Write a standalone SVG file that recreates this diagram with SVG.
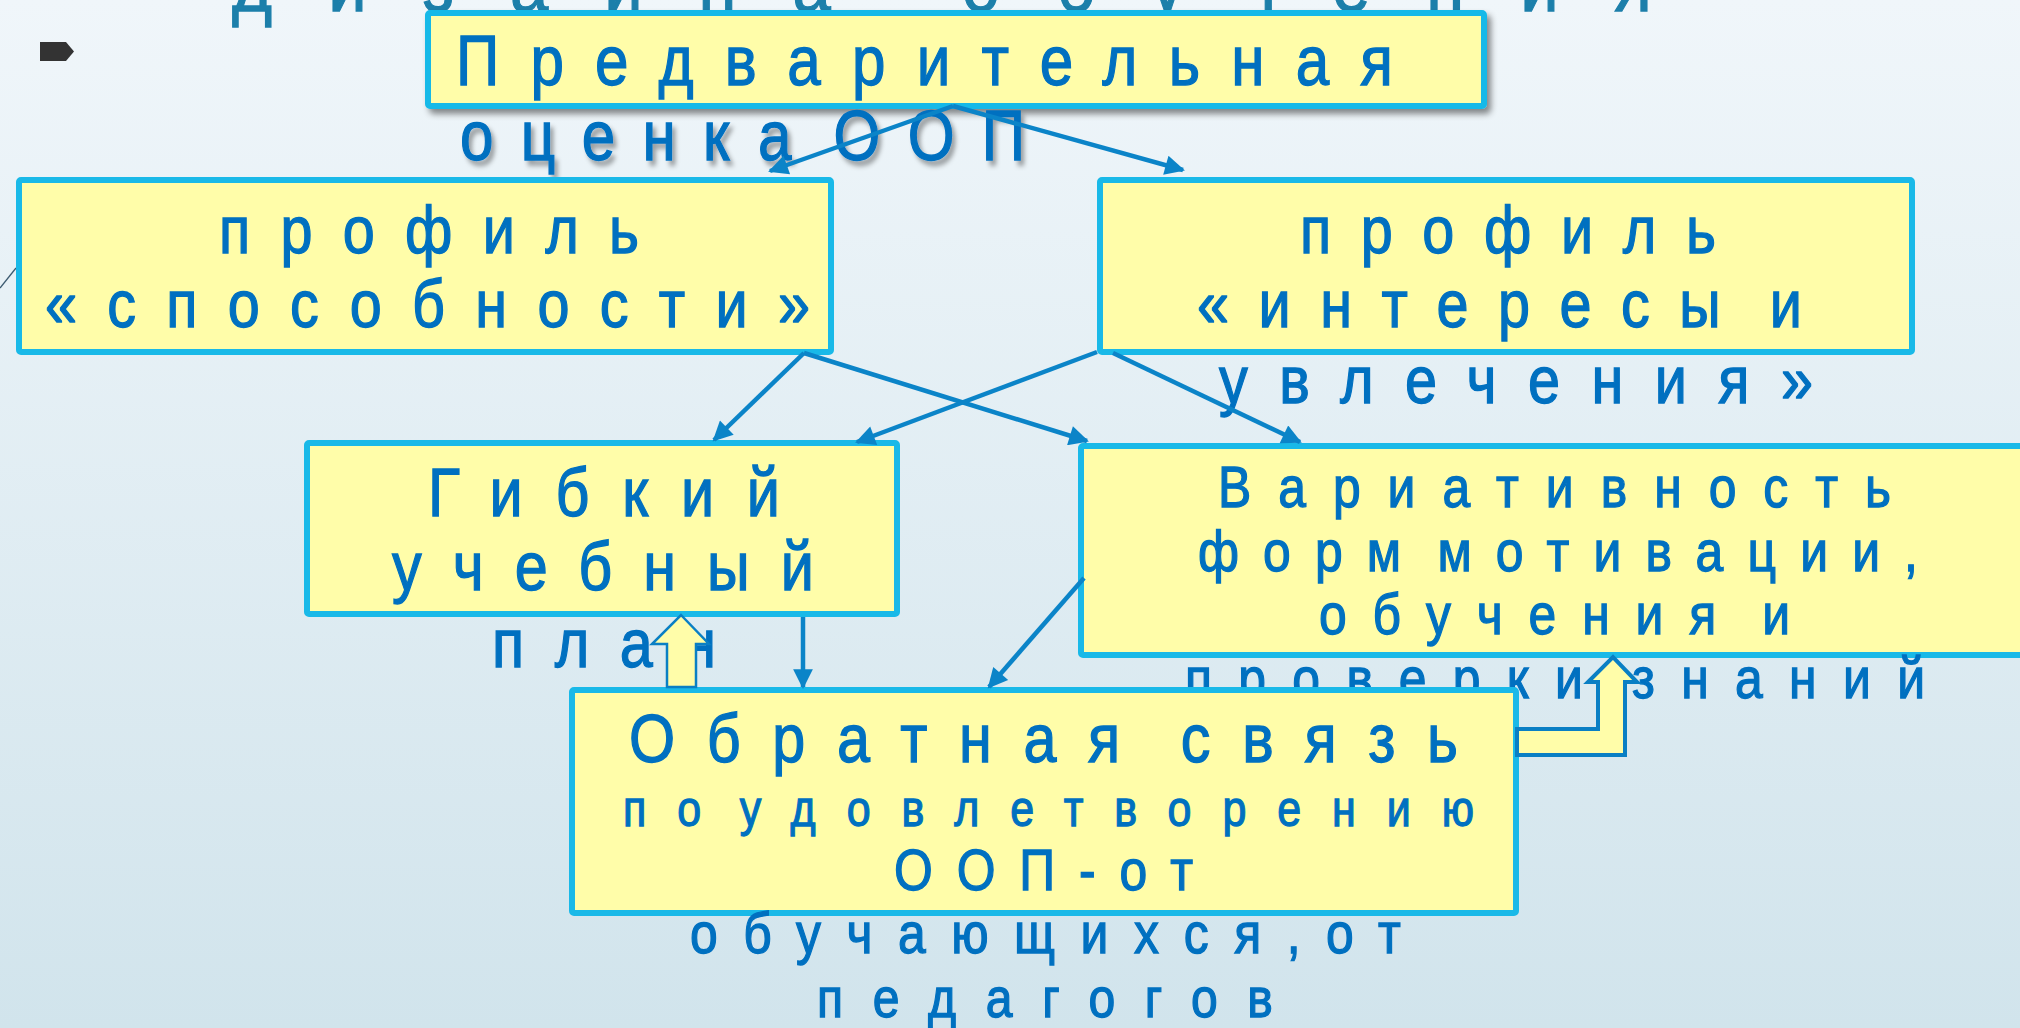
<svg xmlns="http://www.w3.org/2000/svg" width="2020" height="1028" viewBox="0 0 2020 1028">
  <defs>
    <linearGradient id="bg" x1="0" y1="0" x2="0" y2="1">
      <stop offset="0" stop-color="#f0f6fa"/>
      <stop offset="1" stop-color="#d1e4ec"/>
    </linearGradient>
    <filter id="shadow" x="-5%" y="-10%" width="115%" height="130%">
      <feDropShadow dx="4" dy="5" stdDeviation="3" flood-color="#000" flood-opacity="0.45"/>
    </filter>
    <filter id="tshadow" x="-5%" y="-20%" width="115%" height="150%">
      <feDropShadow dx="4" dy="5" stdDeviation="2.5" flood-color="#000" flood-opacity="0.35"/>
    </filter>
    <marker id="ah" viewBox="0 0 10 10" refX="9" refY="5" markerWidth="5" markerHeight="4.4" markerUnits="strokeWidth" orient="auto">
      <path d="M0,0 L10,5 L0,10 z" fill="#0b84c8"/>
    </marker>
    <style>
      .box { fill: #fffda9; stroke: #19b9e8; stroke-width: 6; }
      .t { font-family: "Liberation Sans", Arial, sans-serif; fill: #0070c0; stroke: #0070c0; stroke-width: 1.3; }
      .bgt { font-family: "Liberation Sans", Arial, sans-serif; fill: #1c7faa; stroke: #1c7faa; stroke-width: 1.3; }
      .conn { stroke: #0b84c8; stroke-width: 4.5; fill: none; marker-end: url(#ah); }
      .block { fill: #fffda9; stroke: #0a7fc4; stroke-linejoin: miter; }
    </style>
  </defs>

  <rect x="0" y="0" width="2020" height="1028" fill="url(#bg)"/>

  <!-- background slide title fragment -->
  <text class="bgt" transform="scale(0.86 1)" x="269.8" y="11" font-size="80" textLength="1651" lengthAdjust="spacing">дизайна обучения</text>

  <!-- bullet and decoration -->
  <path d="M40,42 H66 L74,51.5 L66,61 H40 Z" fill="#333"/>
  <line x1="0" y1="288" x2="16" y2="268" stroke="#3c5a70" stroke-width="1.3"/>

  <g id="node-top">
    <rect class="box" x="428" y="13" width="1056" height="93" rx="2" filter="url(#shadow)"/>
    <text class="t" transform="scale(0.86 1)" x="530.2" y="85" font-size="70" textLength="1089.5" lengthAdjust="spacing">Предварительная</text>
    <text class="t" transform="scale(0.86 1)" x="534.9" y="160" font-size="70" textLength="657" lengthAdjust="spacing" word-spacing="-34" filter="url(#tshadow)">оценка ООП</text>
  </g>

  <g id="node-abilities">
    <rect class="box" x="19" y="180" width="812" height="172" rx="2"/>
    <text class="t" transform="scale(0.86 1)" x="254.7" y="253" font-size="67" textLength="488.4" lengthAdjust="spacing">профиль</text>
    <text class="t" transform="scale(0.86 1)" x="52.3" y="327" font-size="67" textLength="889.5" lengthAdjust="spacing">«способности»</text>
  </g>

  <g id="node-interests">
    <rect class="box" x="1100" y="180" width="812" height="172" rx="2"/>
    <text class="t" transform="scale(0.86 1)" x="1511.6" y="253" font-size="67" textLength="483.7" lengthAdjust="spacing">профиль</text>
    <text class="t" transform="scale(0.86 1)" x="1391.9" y="327" font-size="67" textLength="703.5" lengthAdjust="spacing" word-spacing="-30">«интересы и</text>
    <text class="t" transform="scale(0.86 1)" x="1417.4" y="403" font-size="67" textLength="690.7" lengthAdjust="spacing">увлечения»</text>
  </g>

  <g id="node-plan">
    <rect class="box" x="307" y="443" width="590" height="171" rx="2"/>
    <text class="t" transform="scale(0.86 1)" x="497.7" y="516" font-size="69" textLength="409.3" lengthAdjust="spacing">Гибкий</text>
    <text class="t" transform="scale(0.86 1)" x="455.8" y="590" font-size="69" textLength="490.7" lengthAdjust="spacing">учебный</text>
    <text class="t" transform="scale(0.86 1)" x="572.1" y="667" font-size="69" textLength="260.5" lengthAdjust="spacing">план</text>
  </g>

  <g id="node-variability">
    <rect class="box" x="1081" y="446" width="1000" height="209" rx="2"/>
    <text class="t" transform="scale(0.86 1)" x="1416.3" y="507" font-size="58" textLength="782.6" lengthAdjust="spacing">Вариативность</text>
    <text class="t" transform="scale(0.86 1)" x="1393" y="571" font-size="58" textLength="837.2" lengthAdjust="spacing" word-spacing="-30">форм мотивации,</text>
    <text class="t" transform="scale(0.86 1)" x="1533.7" y="634" font-size="58" textLength="547.7" lengthAdjust="spacing" word-spacing="-23">обучения и</text>
    <text class="t" transform="scale(0.86 1)" x="1377.9" y="698" font-size="58" textLength="860.5" lengthAdjust="spacing" word-spacing="-20">проверки знаний</text>
  </g>

  <g id="node-feedback">
    <rect class="box" x="572" y="690" width="944" height="223" rx="2"/>
    <text class="t" transform="scale(0.86 1)" x="731.4" y="762" font-size="69" textLength="964" lengthAdjust="spacing" word-spacing="-22">Обратная связь</text>
    <text class="t" transform="scale(0.86 1)" x="724.4" y="826" font-size="50" textLength="989.5" lengthAdjust="spacing" word-spacing="-41">по удовлетворению</text>
    <text class="t" transform="scale(0.86 1)" x="1039.5" y="890" font-size="58" textLength="347.7" lengthAdjust="spacing">ООП-от</text>
    <text class="t" transform="scale(0.86 1)" x="802.3" y="953" font-size="58" textLength="826.7" lengthAdjust="spacing">обучающихся,от</text>
    <text class="t" transform="scale(0.86 1)" x="950" y="1017" font-size="56" textLength="530.2" lengthAdjust="spacing">педагогов</text>
  </g>

  <g id="connectors">
    <line class="conn" x1="953" y1="106" x2="770" y2="171"/>
    <line class="conn" x1="953" y1="106" x2="1183" y2="170"/>
    <line class="conn" x1="804" y1="353" x2="714" y2="440"/>
    <line class="conn" x1="804" y1="353" x2="1087" y2="441"/>
    <line class="conn" x1="1097" y1="352" x2="857" y2="442"/>
    <line class="conn" x1="1113" y1="353" x2="1300" y2="442"/>
    <line class="conn" x1="803" y1="617" x2="803" y2="687"/>
    <line class="conn" x1="1084" y1="578" x2="989" y2="687"/>
    <polygon class="block" stroke-width="2.5" points="681,615 709,644 696,644 696,687 667,687 667,644 652,644"/>
    <polygon class="block" stroke-width="4" points="1517,729 1598,729 1598,682 1588,682 1613,657 1637,682 1625,682 1625,755 1517,755"/>
  </g>
</svg>
